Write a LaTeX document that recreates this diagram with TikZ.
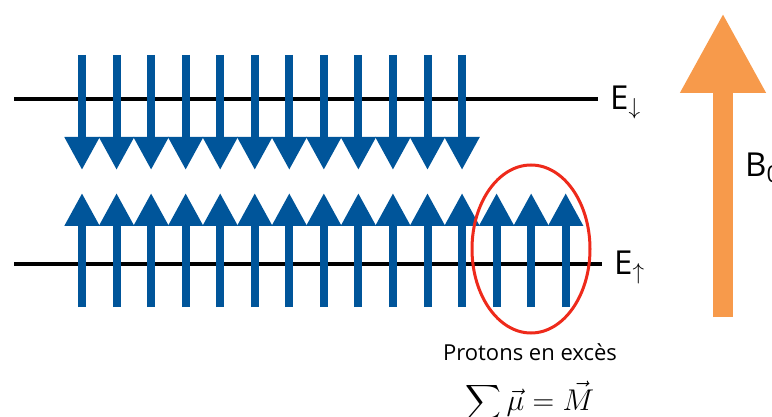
\RequirePackage{fix-cm}
\documentclass[tikz,border=0pt]{standalone}
\usepackage{fontspec}
\usepackage{amsmath}
\usetikzlibrary{arrows.meta, shapes.geometric}
\newfontfamily\labelfont{Open Sans}
\definecolor{spinc}{HTML}{00559A}
\definecolor{fieldc}{HTML}{F79A4B}
\definecolor{excessc}{HTML}{EE2A1B}

\begin{document}
\begin{tikzpicture}[x=1pt, y=-1pt,
  spin/.style={line width=8pt, spinc, -{Triangle[width=33pt, length=33pt]}},
  level/.style={line width=4pt, black},
  biglabel/.style={font=\labelfont\fontsize{33}{36}\selectfont, inner xsep=12pt, inner ysep=0pt}]
  \useasboundingbox (0,0) rectangle (772,417);
  % energy levels
  \node[biglabel, anchor=base west] (Edown) at (598,110) {E$_\downarrow$};
  \node[biglabel, anchor=base west] (Eup) at (602,275) {E$_\uparrow$};
  \coordinate (topstart) at (14,99);
  \coordinate (botstart) at (14,264);
  \draw[level] (topstart) -- (topstart -| Edown.west);
  \draw[level] (botstart) -- (botstart -| Eup.west);
  % spins
  \foreach \i in {0,...,11}
    \draw[spin] (82+34.55*\i,55) -- (82+34.55*\i,170);
  \foreach \i in {0,...,14}
    \draw[spin] (82+34.55*\i,307) -- (82+34.55*\i,193);
  % excess
  \node[draw=excessc, line width=3pt, ellipse, minimum width=118pt, minimum height=168pt, inner sep=0pt] (excess) at (531,249) {};
  \node[font=\labelfont\fontsize{22}{24}\selectfont, anchor=base] (protons) at (530,360) {Protons en exc\`es};
  \node[font=\fontsize{30}{32}\selectfont, anchor=base] (sum) at (530,410) {$\displaystyle\sum\vec{\mu}=\vec{M}$};
  % field
  \draw[line width=20pt, fieldc, -{Triangle[width=80pt, length=80pt]}] (723,317) -- (723,13);
  \node[biglabel, anchor=base west, inner xsep=0pt] (field) at (745,177) {B\textsubscript{0}};
\end{tikzpicture}
\end{document}
